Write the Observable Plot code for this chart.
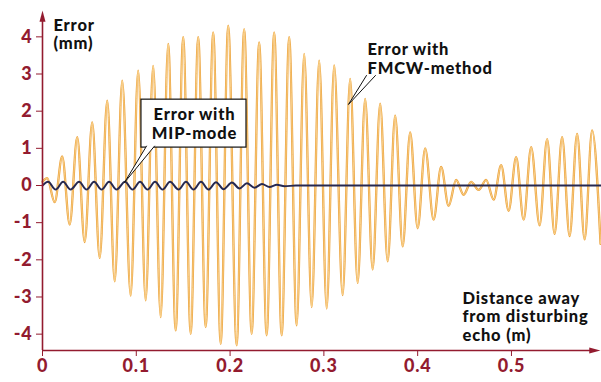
<!DOCTYPE html>
<html>
<head>
<meta charset="utf-8">
<script src="https://cdn.jsdelivr.net/npm/d3@7"></script>
<script src="https://cdn.jsdelivr.net/npm/@observablehq/plot@0.6"></script>
<style>
  html, body { margin: 0; padding: 0; background: #ffffff; }
</style>
</head>
<body>
<div id="chart"></div>
<script>
// Tick values
const xTicks = [0, 0.1, 0.2, 0.3, 0.4, 0.5];
const yTicks = [-4, -3, -2, -1, 0, 1, 2, 3, 4];

// FMCW-method error: successive extrema (peak, trough, peak, ...)
const fmcwX = [0, 0.005, 0.013, 0.021, 0.029, 0.037, 0.045, 0.053, 0.061, 0.069, 0.077,
  0.085, 0.094, 0.102, 0.110, 0.118, 0.126, 0.134, 0.142, 0.150, 0.158,
  0.166, 0.174, 0.182, 0.190, 0.198, 0.207, 0.215, 0.223, 0.231, 0.239,
  0.247, 0.255, 0.263, 0.271, 0.279, 0.287, 0.295, 0.303, 0.311, 0.320,
  0.328, 0.336, 0.344, 0.352, 0.360, 0.368, 0.376, 0.384, 0.392, 0.400,
  0.408, 0.417, 0.425, 0.433, 0.441, 0.449, 0.457, 0.465, 0.473, 0.481,
  0.489, 0.497, 0.505, 0.513, 0.521, 0.530, 0.538, 0.546, 0.554, 0.562,
  0.570, 0.578, 0.586, 0.595];
const fmcwY = [0.1, 0.2, -0.45, 0.78, -1.05, 1.30, -1.52, 1.70, -1.95, 2.28, -2.58,
  2.82, -2.96, 3.09, -3.09, 3.22, -3.54, 3.81, -3.90, 3.99, -3.99,
  3.99, -3.81, 4.12, -4.26, 4.30, -4.30, 4.21, -3.99, 3.85, -4.03,
  4.12, -4.03, 3.99, -3.76, 3.54, -3.27, 3.36, -3.31, 3.23, -2.95,
  2.87, -2.62, 2.33, -2.26, 2.20, -2.04, 1.88, -1.64, 1.43, -1.15,
  1.00, -0.92, 0.50, -0.55, 0.15, -0.25, 0.10, -0.12, 0.15, -0.38,
  0.55, -0.68, 0.76, -0.92, 1.03, -1.07, 1.25, -1.30, 1.30, -1.36,
  1.39, -1.45, 1.48, -1.57];

// MIP-mode error: successive extrema
const mipX = [0, 0.006, 0.014, 0.022, 0.030, 0.039, 0.047, 0.055, 0.063, 0.071, 0.079,
  0.088, 0.096, 0.104, 0.112, 0.120, 0.128, 0.136, 0.145, 0.153, 0.161,
  0.169, 0.177, 0.185, 0.193, 0.202, 0.210, 0.218, 0.226, 0.234, 0.242,
  0.250, 0.258, 0.270, 0.595];
const mipY = [0.0, 0.10, -0.11, 0.10, -0.11, 0.10, -0.11, 0.10, -0.11, 0.10, -0.11,
  0.10, -0.11, 0.10, -0.11, 0.10, -0.11, 0.10, -0.11, 0.10, -0.11,
  0.10, -0.11, 0.09, -0.10, 0.08, -0.08, 0.06, -0.06, 0.04, -0.04,
  0.02, -0.02, 0.0, 0.0];

// Text
const yTitle = "Error\n(mm)";
const xTitle = "Distance away\nfrom disturbing\necho (m)";
const mipLabel = "Error with\nMIP-mode";
const fmcwLabel = "Error with\nFMCW-method";

const fmcw = fmcwX.map((x, i) => ({x, y: fmcwY[i]}));
const mip = mipX.map((x, i) => ({x, y: mipY[i]}));

const red = "#931b2f";
const ink = "#111111";
const fw = 900;
const fs = 16.5;

const arrowHead = {
  draw(context, size) {
    const r = Math.sqrt(size / Math.PI);
    context.moveTo(0, -2.2 * r);
    context.lineTo(0.75 * r, 0.6 * r);
    context.lineTo(-0.75 * r, 0.6 * r);
    context.closePath();
  }
};

const textOpts = {fontSize: fs, fontWeight: fw, fill: ink, text: d => d};

const chart = Plot.plot({
  width: 601,
  height: 382,
  marginLeft: 42,
  marginRight: 0,
  marginTop: 20,
  marginBottom: 32,
  style: {fontFamily: "Lato, 'Open Sans', sans-serif", background: "#ffffff", overflow: "visible", letterSpacing: "0.8px"},
  x: {domain: [0, 0.596]},
  y: {domain: [-4.44, 4.44]},
  marks: [
    Plot.line(fmcw, {x: "x", y: "y", curve: "monotone-x", stroke: "#eba23c", strokeWidth: 2.3}),
    Plot.line(fmcw, {x: "x", y: "y", curve: "monotone-x", stroke: "#fcdb9c", strokeWidth: 0.8}),
    Plot.line(mip, {x: "x", y: "y", curve: "monotone-x", stroke: "#262850", strokeWidth: 2}),
    // axes
    Plot.ruleX([0], {y1: -4.44, y2: 4.5, stroke: red, strokeWidth: 1.6}),
    Plot.ruleY([-4.44], {x1: 0, x2: 0.588, stroke: red, strokeWidth: 1.6}),
    Plot.dot([0], {x: 0, y: 4.47, symbol: arrowHead, r: 4, fill: red, stroke: "none"}),
    Plot.dot([0], {x: 0.5855, y: -4.44, symbol: arrowHead, r: 4, rotate: 90, fill: red, stroke: "none"}),
    Plot.axisY({ticks: yTicks, tickSize: 6, tickPadding: 4, fontSize: 18, fontWeight: fw,
      color: red, label: null, tickFormat: d => String(d)}),
    Plot.axisX({ticks: xTicks, tickSize: 6, tickPadding: 3, fontSize: 18, fontWeight: fw,
      color: red, label: null, tickFormat: d => String(d)}),
    // titles
    Plot.text([yTitle], {...textOpts, x: 0.0117, y: 4.07, textAnchor: "start", lineAnchor: "middle", lineHeight: 1.12}),
    Plot.text([xTitle], {...textOpts, x: 0.4478, y: -3.525, textAnchor: "start", lineAnchor: "middle", lineHeight: 1.12}),
    // MIP callout
    Plot.rect([0], {x1: 0.1055, x2: 0.2175, y1: 1.02, y2: 2.31, fill: "white", stroke: ink, strokeWidth: 1.2, inset: 0}),
    Plot.line([[0.1109, 1.06], [0.0874, 0.08], [0.1194, 1.06]], {x: d => d[0], y: d => d[1], fill: "white", stroke: ink, strokeWidth: 1}),
    Plot.text([mipLabel], {...textOpts, x: 0.162, y: 1.668, textAnchor: "middle", lineAnchor: "middle", lineHeight: 1.15}),
    // FMCW callout
    Plot.line([[0.3454, 2.96], [0.3262, 2.18], [0.355, 2.96]], {x: d => d[0], y: d => d[1], fill: "white", stroke: ink, strokeWidth: 1}),
    Plot.text([fmcwLabel], {...textOpts, x: 0.3465, y: 3.42, textAnchor: "start", lineAnchor: "middle", lineHeight: 1.15})
  ]
});

document.getElementById("chart").appendChild(chart);
</script>
</body>
</html>
